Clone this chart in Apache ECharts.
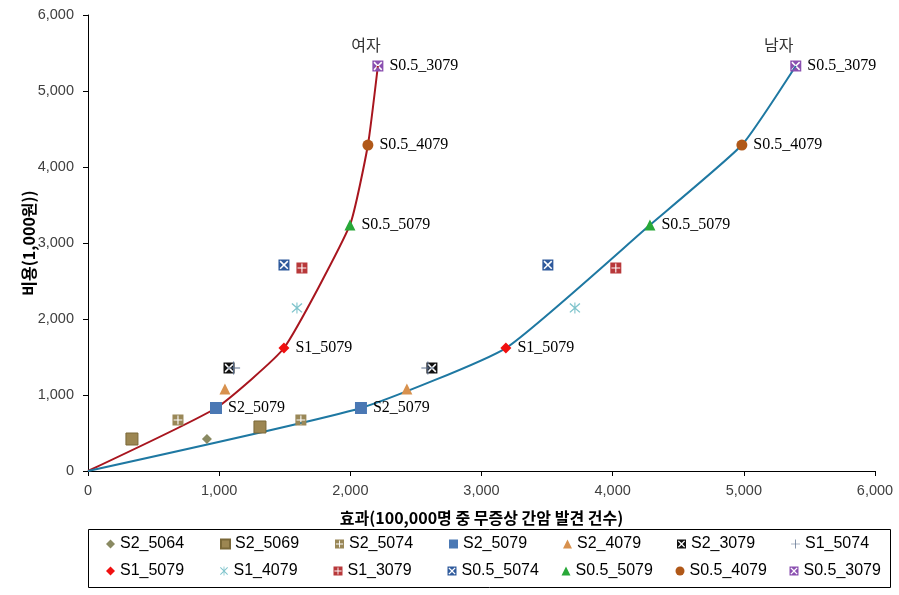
<!DOCTYPE html>
<html>
<head>
<meta charset="utf-8">
<script src="https://cdn.jsdelivr.net/npm/echarts@6/dist/echarts.min.js"></script>
<style>html,body{margin:0;padding:0;background:#fff}#c{width:899px;height:595px}</style>
</head>
<body>
<div id="c"></div>
<script>
// ---- data ----
const strategyNames = ['S2_5064','S2_5069','S2_5074','S2_5079','S2_4079','S2_3079','S1_5074',
  'S1_5079','S1_4079','S1_3079','S0.5_5074','S0.5_5079','S0.5_4079','S0.5_3079'];
// effect (x) and cost (y) for female (여자) and male (남자)
const femaleEffect = [335, 335, 686, 976, 1044, 1075, 1110, 1494, 1593, 1631, 1494, 1997, 2134, 2210];
const femaleCost   = [421, 421, 671, 829, 1079, 1355, 1355, 1618, 2145, 2671, 2711, 3237, 4289, 5329];
const maleEffect   = [907, 1311, 1623, 2081, 2431, 2622, 2591, 3186, 3712, 4024, 3506, 4284, 4985, 5396];
const maleCost     = [421, 579, 671, 829, 1079, 1355, 1355, 1618, 2145, 2671, 2711, 3237, 4289, 5329];
// frontier paths (indices into strategies)
const frontierIdx = [3, 7, 11, 12, 13];
const labelledIdx = [3, 7, 11, 12, 13];
const groupNames = ['여자', '남자'];
const xTickLabels = ['0','1,000','2,000','3,000','4,000','5,000','6,000'];
const yTickLabels = ['0','1,000','2,000','3,000','4,000','5,000','6,000'];
const xName = '효과(100,000명 중 무증상 간암 발견 건수)';
const yName = '비용(1,000원))';

// ---- styles ----
const SQ = 'M0,0 H10 V10 H0 Z ';
const plusHole = 'M4.5,1 V4.5 H1 V5.5 H4.5 V9 H5.5 V5.5 H9 V4.5 H5.5 V1 Z';
const xHole = 'M2,1 L1,2 L4,5 L1,8 L2,9 L5,6 L8,9 L9,8 L6,5 L9,2 L8,1 L5,4 Z';
const asterisk = 'path://M1,1.7 L8.3,9 L9,8.3 L1.7,1 Z M8.3,1 L1,8.3 L1.7,9 L9,1.7 Z M4.6,0.5 V9.5 H5.4 V0.5 Z';
const plusThin = 'path://M4.6,0 V4.6 H0 V5.4 H4.6 V10 H5.4 V5.4 H10 V4.6 H5.4 V0 Z';
const styles = [
  {symbol:'diamond', size:10, color:'#8A8A62'},
  {symbol:'rect', size:12, color:'#9C8652', border:'#7A6838'},
  {symbol:'path://'+SQ+plusHole, size:11, color:'#9A8858'},
  {symbol:'rect', size:12, color:'#4A78B4'},
  {symbol:'triangle', size:11, color:'#D8914E'},
  {symbol:'path://'+SQ+xHole, size:11, color:'#111111'},
  {symbol:plusThin, size:13, color:'#5A6E8C'},
  {symbol:'diamond', size:11, color:'#F01010'},
  {symbol:asterisk, size:11, color:'#7FC4CC'},
  {symbol:'path://'+SQ+plusHole, size:11, color:'#B8383A'},
  {symbol:'path://'+SQ+xHole, size:11, color:'#2F5A9C'},
  {symbol:'triangle', size:11, color:'#28A838'},
  {symbol:'circle', size:11, color:'#B05818'},
  {symbol:'path://'+SQ+xHole, size:11, color:'#8A4FB0'}
];
const lineColors = ['#A8151E', '#1E78A2'];
const serif = '"Liberation Serif", "Times New Roman", serif';
const kr = '"Noto Sans CJK KR", sans-serif';

function lineSeries(k, xs, ys, offset) {
  const pts = [[0, 0]].concat(frontierIdx.map(i => [xs[i], ys[i]]));
  const last = pts[pts.length - 1];
  return {
    type: 'line', name: groupNames[k], data: pts, smooth: 0.15,
    showSymbol: false, symbol: 'none', silent: true,
    lineStyle: {color: lineColors[k], width: 2},
    markPoint: {
      symbol: 'circle', symbolSize: 0, silent: true,
      data: [{coord: last, value: groupNames[k]}],
      label: {show: true, formatter: groupNames[k], offset: offset, color: '#333',
        fontFamily: kr, fontSize: 16}
    },
    z: 2
  };
}

const series = [
  lineSeries(0, femaleEffect, femaleCost, [-12, -21]),
  lineSeries(1, maleEffect, maleCost, [-17, -21])
];
strategyNames.forEach((n, i) => {
  const st = styles[i];
  const lab = labelledIdx.includes(i);
  series.push({
    type: 'scatter', name: n,
    data: [[femaleEffect[i], femaleCost[i]], [maleEffect[i], maleCost[i]]],
    symbol: st.symbol, symbolSize: st.size,
    itemStyle: {color: st.color, opacity: 1, borderColor: st.border || st.color, borderWidth: st.border ? 1 : 0},
    label: {show: lab, position: 'right', distance: 6, formatter: n, color: '#000',
      fontFamily: serif, fontSize: 16},
    z: 3
  });
});

const axisFont = {color: '#404040', fontFamily: '"Liberation Sans", Arial, sans-serif', fontSize: 14.5};
const chart = echarts.init(document.getElementById('c'), null, {renderer: 'canvas'});
chart.setOption({
  animation: false,
  backgroundColor: '#fff',
  grid: {left: 88, right: 24, top: 15, bottom: 124},
  xAxis: {
    type: 'value', min: 0, max: 6000, interval: 1000,
    name: xName, nameLocation: 'middle', nameGap: 39, nameMoveOverlap: false,
    nameTextStyle: {color: '#000', fontWeight: 'bold', fontSize: 16, fontFamily: kr},
    axisLine: {show: true, lineStyle: {color: '#000', width: 1}},
    axisTick: {show: true, length: 5, lineStyle: {color: '#000'}},
    splitLine: {show: false},
    axisLabel: Object.assign({margin: 12, formatter: v => xTickLabels[Math.round(v / 1000)]}, axisFont)
  },
  yAxis: {
    type: 'value', min: 0, max: 6000, interval: 1000,
    name: yName, nameLocation: 'middle', nameGap: 51, nameMoveOverlap: false,
    nameTextStyle: {color: '#000', fontWeight: 'bold', fontSize: 16, fontFamily: kr},
    axisLine: {show: true, lineStyle: {color: '#000', width: 1}},
    axisTick: {show: true, length: 5, lineStyle: {color: '#000'}},
    splitLine: {show: false},
    axisLabel: Object.assign({margin: 14, formatter: v => yTickLabels[Math.round(v / 1000)]}, axisFont)
  },
  legend: {
    data: strategyNames, left: 106, top: 533, width: 800, padding: 0,
    itemWidth: 9, itemHeight: 9, itemGap: 5, orient: 'horizontal',
    selectedMode: false,
    textStyle: {width: 95, lineHeight: 22, fontSize: 16, color: '#000',
      fontFamily: '"Liberation Sans", Arial, sans-serif'}
  },
  graphic: [{
    type: 'rect', left: 86, top: 527, silent: true,
    shape: {width: 802, height: 58},
    style: {fill: 'none', stroke: '#000', lineWidth: 1}
  }],
  series: series
});
</script>
</body>
</html>
